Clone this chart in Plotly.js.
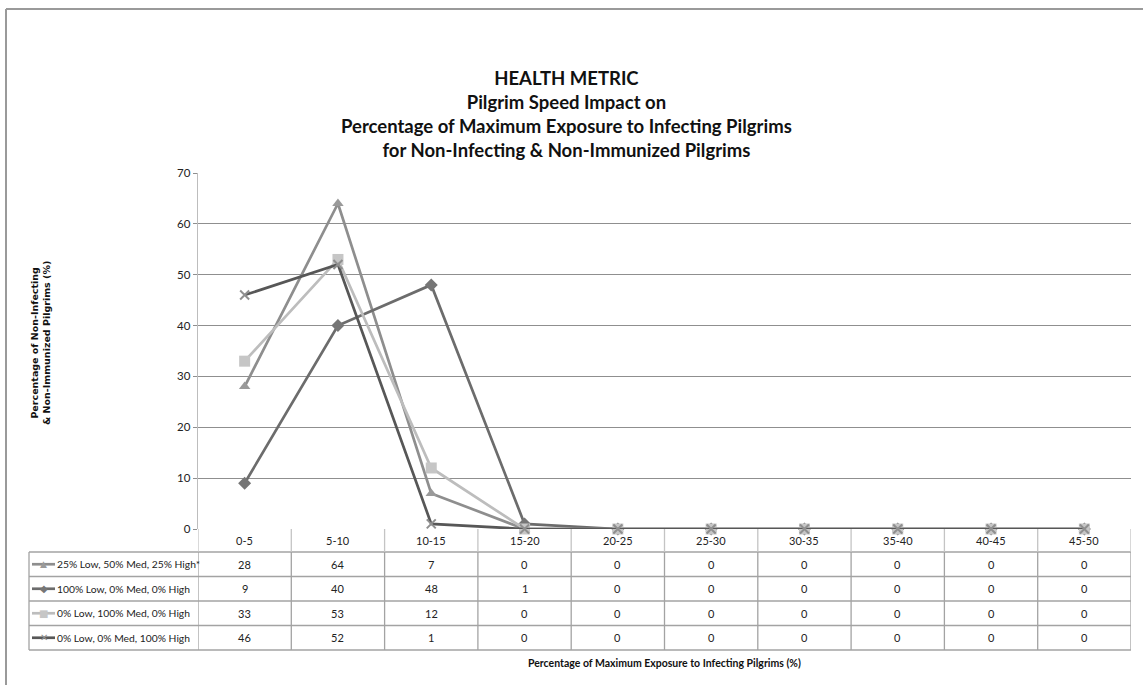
<!DOCTYPE html>
<html>
<head>
<meta charset="utf-8">
<script src="https://cdn.plot.ly/plotly-3.0.1.min.js"></script>
<style>html,body{margin:0;padding:0;background:#fff;}#chart{width:1143px;height:685px;}</style>
</head>
<body>
<div id="chart"></div>
<script>
// ---- data ----
const categories = ["0-5","5-10","10-15","15-20","20-25","25-30","30-35","35-40","40-45","45-50"];
const seriesNames = ["25% Low, 50% Med, 25% High*","100% Low, 0% Med, 0% High","0% Low, 100% Med, 0% High","0% Low, 0% Med, 100% High"];
const mixed   = [28,64,7,0,0,0,0,0,0,0];
const lowOnly = [9,40,48,1,0,0,0,0,0,0];
const medOnly = [33,53,12,0,0,0,0,0,0,0];
const highOnly= [46,52,1,0,0,0,0,0,0,0];
const seriesValues = [mixed, lowOnly, medOnly, highOnly];
const yTicks = [0,10,20,30,40,50,60,70];

// ---- styling ----
const W = 1143, H = 685;
const px = v => v / W;            // pixel -> paper x
const py = v => 1 - v / H;        // pixel -> paper y
const plotL = 198, plotR = 1131, plotT = 173, plotB = 529;
const tableL = 29;
const rowLines = [552, 576.5, 601, 625.5, 650];
const FONT = "Lato, 'Open Sans', sans-serif";

const lineColors = ["#8e8e8e","#6c6c6c","#bdbdbd","#575757"];
const markerColors = ["#9a9a9a","#767676","#c6c6c6","#8f8f8f"];
const symbols = ["triangle-up","diamond","square","x-thin"];
const glyphs = ["\u25B2","\u25C6","\u25A0","\u2715"];
const glyphSizes = [9,10,10,10];
const sizes = [10,10,11,9];

const traces = seriesValues.map((vals, i) => ({
  type: "scatter",
  mode: "lines+markers",
  x: categories,
  y: vals,
  name: seriesNames[i],
  showlegend: false,
  line: {color: lineColors[i], width: 2.7},
  marker: {
    symbol: symbols[i], size: sizes[i], color: markerColors[i],
    line: symbols[i] === "x-thin" ? {color: markerColors[i], width: 2} : {width: 0}
  },
  cliponaxis: false
}));

const shapes = [];
const gridCol = "#a3a3a3";
// outer chart border (top and left edges visible)
shapes.push({type:"line", xref:"paper", yref:"paper", x0:px(6), x1:1, y0:py(9), y1:py(9),
  line:{color:"#9a9a9a", width:2}});
shapes.push({type:"line", xref:"paper", yref:"paper", x0:px(6), x1:px(6), y0:py(9), y1:0,
  line:{color:"#9a9a9a", width:2}});
// table horizontal lines
rowLines.forEach(yy => shapes.push({type:"line", xref:"paper", yref:"paper",
  x0:px(tableL), x1:px(plotR), y0:py(yy), y1:py(yy), line:{color:gridCol, width:1.3}}));
// table left edge
shapes.push({type:"line", xref:"paper", yref:"paper", x0:px(tableL), x1:px(tableL),
  y0:py(rowLines[0]), y1:py(rowLines[rowLines.length-1]), line:{color:gridCol, width:1.3}});
// column dividers
for (let k = 0; k <= categories.length; k++) {
  const xv = k - 0.5;
  shapes.push({type:"line", xref:"x", yref:"paper", x0:xv, x1:xv, y0:py(plotB), y1:py(rowLines[0]),
    line:{color:"#c4c4c4", width:1.3}});
  shapes.push({type:"line", xref:"x", yref:"paper", x0:xv, x1:xv, y0:py(rowLines[0]), y1:py(rowLines[rowLines.length-1]),
    line:{color:gridCol, width:1.3}});
}

const annotations = [];
// title
annotations.push({xref:"paper", yref:"paper", x:px(566), y:py(65), xanchor:"center", yanchor:"top",
  showarrow:false, align:"center",
  text:"<b>HEALTH METRIC<br>Pilgrim Speed Impact on<br>Percentage of Maximum Exposure to Infecting Pilgrims<br>for Non-Infecting &amp; Non-Immunized Pilgrims</b>",
  font:{family:FONT, size:18.5, color:"#111"}});
// y axis title
annotations.push({xref:"paper", yref:"paper", x:px(40), y:py(343), xanchor:"center", yanchor:"middle",
  showarrow:false, textangle:-90, align:"center",
  text:"<b>Percentage of Non-Infecting<br>&amp; Non-Immunized Pilgrims (%)</b>",
  font:{family:"'DejaVu Sans', sans-serif", size:9.5, color:"#111"}});
// x axis title
annotations.push({xref:"paper", yref:"paper", x:px(664), y:py(663), xanchor:"center", yanchor:"middle",
  showarrow:false,
  text:"<b>Percentage of Maximum Exposure to Infecting Pilgrims (%)</b>",
  font:{family:FONT, size:10.5, color:"#111"}});
// header row labels
categories.forEach(c => annotations.push({xref:"x", yref:"paper", x:c, y:py((plotB+rowLines[0])/2),
  xanchor:"center", yanchor:"middle", showarrow:false, text:c, font:{family:FONT, size:11, color:"#222"}}));
// body rows: legend key + series name + values
seriesValues.forEach((vals, r) => {
  const yc = (rowLines[r] + rowLines[r+1]) / 2;
  shapes.push({type:"line", xref:"paper", yref:"paper", x0:px(32), x1:px(55), y0:py(yc), y1:py(yc),
    line:{color:lineColors[r], width:2.7}});
  annotations.push({xref:"paper", yref:"paper", x:px(43.5), y:py(yc), xanchor:"center", yanchor:"middle",
    showarrow:false, text:glyphs[r], font:{family:"'DejaVu Sans', sans-serif", size:glyphSizes[r], color:markerColors[r]}});
  annotations.push({xref:"paper", yref:"paper", x:px(55), y:py(yc), xanchor:"left", yanchor:"middle",
    showarrow:false, text:seriesNames[r], font:{family:FONT, size:10.3, color:"#222"}});
  vals.forEach((v, j) => annotations.push({xref:"x", yref:"paper", x:categories[j], y:py(yc),
    xanchor:"center", yanchor:"middle", showarrow:false, text:String(v),
    font:{family:FONT, size:11, color:"#222"}}));
});

const layout = {
  width: W, height: H,
  margin: {l:0, r:0, t:0, b:0},
  paper_bgcolor: "#fff", plot_bgcolor: "#fff",
  showlegend: false,
  xaxis: {domain:[px(plotL), px(plotR)], type:"category", range:[-0.5, 9.5],
    showticklabels:false, ticks:"", showgrid:false, zeroline:false,
    showline:false, fixedrange:true},
  yaxis: {domain:[py(plotB), py(plotT)], range:[0,70], tickvals:yTicks,
    showgrid:true, gridcolor:"#8f8f8f", gridwidth:1.2, zeroline:false,
    showline:true, linecolor:"#bdbdbd", linewidth:1.3,
    ticks:"outside", ticklen:4, tickcolor:"#8f8f8f",
    tickfont:{family:FONT, size:11.5, color:"#222"}, fixedrange:true},
  shapes: shapes,
  annotations: annotations
};
Plotly.newPlot("chart", traces, layout, {displayModeBar:false, staticPlot:true});
</script>
</body>
</html>
